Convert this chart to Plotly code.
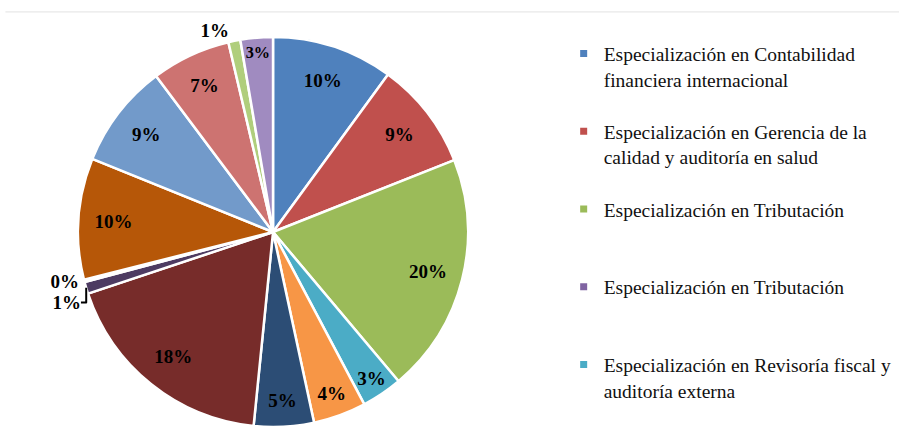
"""
Pie chart of postgraduate programmes (Excel-style palette).
"""

import plotly.graph_objects as go

# Programmes in data order; two of them have no value and are not drawn
programas = [
    "Especialización en Contabilidad financiera internacional",
    "Especialización en Gerencia de la calidad y auditoría en salud",
    "Especialización en Tributación",
    "Especialización en Tributación ",
    "Especialización en Revisoría fiscal y auditoría externa",
    "Programa 6",
    "Programa 7",
    "Programa 8",
    "Programa 9",
    "Programa 10",
    "Programa 11",
    "Programa 12",
    "Programa 13",
    "Programa 14",
    "Programa 15",
    "Programa 16",
]
valores = [10.1, 9.0, 20.0, None, 3.4, 4.4, 5.0, 18.4, None, 1.0, 0.2, 10.1, 8.7, 6.6, 1.0, 2.7]
colores = [
    "#4F81BD", "#C0504D", "#9BBB59", "#8064A2", "#4BACC6", "#F79646",
    "#2C4D75", "#772C2A", "#5F7530", "#4D3B62", "#276A7C", "#B65708",
    "#729ACA", "#CD7371", "#B0CE7C", "#A08BC0",
]
posicion_texto = [
    "inside", "inside", "inside", "inside", "inside", "inside",
    "inside", "inside", "inside", "outside", "outside", "inside",
    "inside", "inside", "outside", "inside",
]

# Legend entries as Excel shows them (only the first five fit)
leyenda = [
    "Especialización en Contabilidad<br>financiera internacional",
    "Especialización en Gerencia de la<br>calidad y auditoría en salud",
    "Especialización en Tributación",
    "Especialización en Tributación",
    "Especialización en Revisoría fiscal y<br>auditoría externa",
]

dominio = {"x": [0.0868, 0.5206], "y": [0.0317, 0.916]}

fig = go.Figure()

# Coloured slices
fig.add_trace(
    go.Pie(
        labels=programas,
        values=valores,
        sort=False,
        direction="clockwise",
        rotation=0,
        marker={"colors": colores, "line": {"color": "white", "width": 2.5}},
        textinfo="none",
        domain=dominio,
        showlegend=False,
        hoverinfo="label+percent",
    )
)

# Transparent ring on top, only to push the percentage labels outwards like Excel
fig.add_trace(
    go.Pie(
        labels=programas,
        values=valores,
        sort=False,
        direction="clockwise",
        rotation=0,
        hole=0.64,
        marker={"colors": ["rgba(0,0,0,0)"] * len(colores), "line": {"width": 0}},
        texttemplate="%{percent:.0%}",
        textposition=posicion_texto,
        insidetextorientation="horizontal",
        textfont={"family": "Liberation Serif", "size": 19, "color": "black", "weight": "bold"},
        domain=dominio,
        showlegend=False,
        hoverinfo="skip",
    )
)

# Legend-only traces, one legend box each so spacing matches Excel's even layout
leg_top = 0.922
leg_step = 0.1763
for i, nombre in enumerate(leyenda):
    key = "legend" if i == 0 else f"legend{i + 1}"
    fig.add_trace(
        go.Scatter(
            x=[None],
            y=[None],
            mode="markers",
            name=nombre,
            marker={"symbol": "square", "size": 7, "color": colores[i]},
            legend=key,
            hoverinfo="skip",
        )
    )
    fig.update_layout(
        {
            key: {
                "x": 0.627,
                "y": leg_top - i * leg_step,
                "xanchor": "left",
                "yanchor": "top",
                "valign": "top",
                "bgcolor": "rgba(0,0,0,0)",
                "font": {"family": "Liberation Serif", "size": 19.5, "color": "#111111"},
                "itemclick": False,
            }
        }
    )

# Thin grey rule across the top, as in the original export
fig.add_shape(
    type="line",
    xref="paper",
    yref="paper",
    x0=0.006,
    x1=1,
    y0=0.973,
    y1=0.973,
    line={"color": "#E2E2E2", "width": 1},
)

fig.update_layout(
    width=899,
    height=441,
    margin={"l": 0, "r": 0, "t": 0, "b": 0},
    paper_bgcolor="white",
    plot_bgcolor="white",
    xaxis={"visible": False},
    yaxis={"visible": False},
)

# Drop the browser's default body margin so the figure sits at the page origin
fig.write_html(
    "out.html",
    config={"displayModeBar": False},
    post_script="document.body.style.margin = '0';",
)
